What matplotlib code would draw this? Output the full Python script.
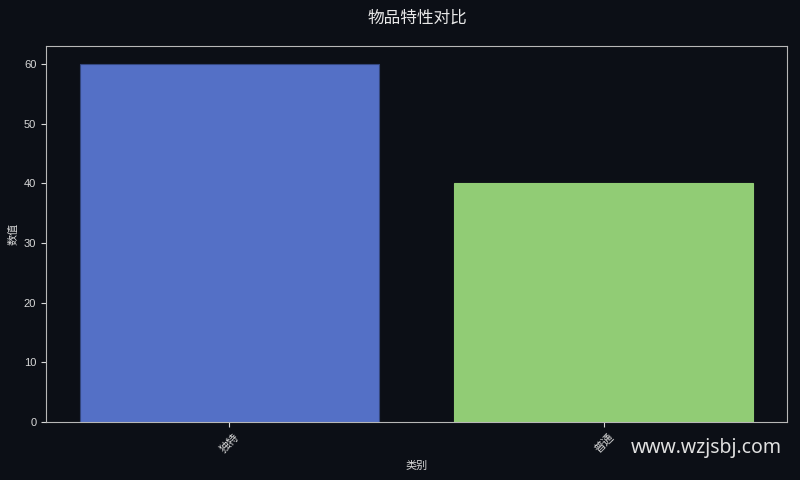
import matplotlib
matplotlib.use("Agg")
import matplotlib.pyplot as plt

plt.rcParams['font.family'] = ['Liberation Sans', 'Noto Sans CJK SC']

categories = ['独特', '普通']
values = [60, 40]
colors = ['#5470c6', '#91cc75']
edges = ['#34477e', '#91cc75']

bg = '#0c0f16'
fg = '#d8d8d8'

fig = plt.figure(figsize=(8, 4.8), dpi=100, facecolor=bg)
ax = fig.add_axes([46/800, 1-422/480, (787-46)/800, (422-46)/480])
ax.set_facecolor(bg)
ax.bar(range(len(categories)), values, width=0.8, color=colors, edgecolor=edges, linewidth=0.8)
ax.set_xticks(range(len(categories)))
ax.set_xticklabels(categories, rotation=45, fontsize=8, color=fg)
ax.tick_params(axis='y', labelsize=8, colors=fg)
ax.tick_params(axis='x', colors=fg)
ax.set_xlabel('类别', fontsize=8, color=fg)
ax.set_ylabel('数值', fontsize=8, color=fg)
for s in ax.spines.values():
    s.set_color('#b8b8b8')
fig.text(417.5/800, 1-18/480, '物品特性对比', fontsize=12, color='#e8e8e8', ha='center', va='center',
         family=['Noto Sans CJK SC', 'DejaVu Sans'])
fig.text(782/800, 1-448/480, 'www.wzjsbj.com', fontsize=14, color='#e0e0e0', ha='right', va='center',
         family=['Noto Sans', 'DejaVu Sans'])
fig.savefig('out.png', dpi=100, facecolor=bg)
